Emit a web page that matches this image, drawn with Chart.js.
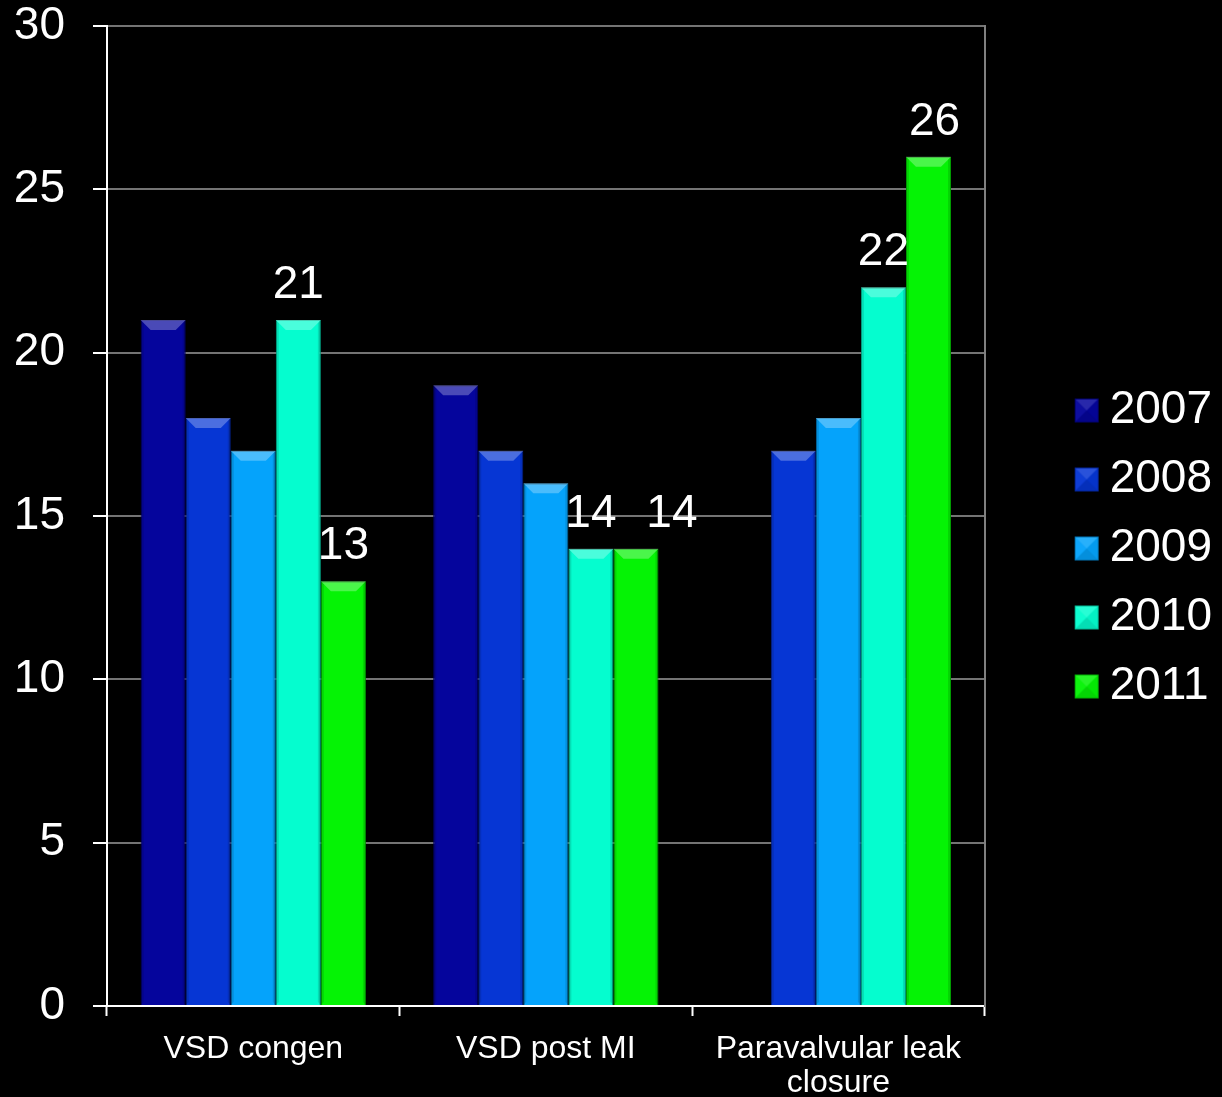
<!DOCTYPE html>
<html>
<head>
<meta charset="utf-8">
<script src="https://cdn.jsdelivr.net/npm/chart.js@4.4.1/dist/chart.umd.min.js"></script>
<style>
  html, body { margin: 0; padding: 0; background: #000; }
  #wrap { width: 1222px; height: 1097px; position: relative; }
</style>
</head>
<body>
<div id="wrap"><canvas id="c"></canvas></div>
<script>
// ---- data ----
const categories = ['VSD congen', 'VSD post MI', ['Paravalvular leak', 'closure']];
const years = ['2007', '2008', '2009', '2010', '2011'];
const v2007 = [21, 19, null];
const v2008 = [18, 17, 17];
const v2009 = [17, 16, 18];
const v2010 = [21, 14, 22];
const v2011 = [13, 14, 26];
const yTicks = [0, 5, 10, 15, 20, 25, 30];

const seriesValues = [v2007, v2008, v2009, v2010, v2011];
const fillColors = ['#05059c', '#0636d4', '#05a3fb', '#05fdcf', '#05f305'];
const edgeColors = ['#020270', '#04259a', '#0377b8', '#03b894', '#03b003'];

const FONT = '"Liberation Sans", Arial, sans-serif';

// legend swatch: bevelled square drawn on the right half of a wider image
function makeSwatch(fill, edge) {
  const c = document.createElement('canvas');
  c.width = 52; c.height = 26;
  const g = c.getContext('2d');
  const l = 27, t = 1, s = 24, r = l + s, b = t + s, cx = l + s / 2, cy = t + s / 2;
  g.fillStyle = fill;
  g.fillRect(l, t, s, s);
  const tri = (pts, col) => {
    g.fillStyle = col; g.beginPath();
    g.moveTo(pts[0][0], pts[0][1]); g.lineTo(pts[1][0], pts[1][1]); g.lineTo(pts[2][0], pts[2][1]);
    g.closePath(); g.fill();
  };
  tri([[l, t], [r, t], [cx, cy]], 'rgba(255,255,255,0.14)');
  tri([[l, t], [l, b], [cx, cy]], 'rgba(255,255,255,0.04)');
  tri([[r, t], [r, b], [cx, cy]], 'rgba(0,0,0,0.05)');
  tri([[l, b], [r, b], [cx, cy]], 'rgba(0,0,0,0.12)');
  g.strokeStyle = edge; g.lineWidth = 1;
  g.strokeRect(l + 0.5, t + 0.5, s - 1, s - 1);
  return c;
}

// bevel effect on bars
const bevelPlugin = {
  id: 'bevel',
  afterDatasetsDraw(chart) {
    const ctx = chart.ctx;
    chart.data.datasets.forEach((ds, di) => {
      const meta = chart.getDatasetMeta(di);
      meta.data.forEach((bar, i) => {
        if (ds.data[i] == null) return;
        const { x, y, base, width } = bar.getProps(['x', 'y', 'base', 'width'], true);
        const l = x - width / 2, r = x + width / 2;
        const h = Math.min(10, (base - y) / 2);
        ctx.save();
        ctx.fillStyle = 'rgba(255,255,255,0.28)';
        ctx.beginPath();
        ctx.moveTo(l, y); ctx.lineTo(r, y); ctx.lineTo(r - h, y + h); ctx.lineTo(l + h, y + h);
        ctx.closePath(); ctx.fill();
        ctx.fillStyle = 'rgba(0,0,0,0.12)';
        ctx.beginPath();
        ctx.moveTo(l, y); ctx.lineTo(l + 3, y + 3); ctx.lineTo(l + 3, base - 3); ctx.lineTo(l, base);
        ctx.closePath(); ctx.fill();
        ctx.beginPath();
        ctx.moveTo(r, y); ctx.lineTo(r - 3, y + 3); ctx.lineTo(r - 3, base - 3); ctx.lineTo(r, base);
        ctx.closePath(); ctx.fill();
        ctx.restore();
      });
    });
  }
};

// value labels above bars (only for selected series)
const valueLabelPlugin = {
  id: 'valueLabels',
  afterDatasetsDraw(chart, args, opts) {
    const ctx = chart.ctx;
    ctx.save();
    ctx.font = opts.fontSize + 'px ' + FONT;
    ctx.fillStyle = opts.color;
    ctx.textAlign = 'center';
    ctx.textBaseline = 'alphabetic';
    opts.series.forEach(di => {
      const meta = chart.getDatasetMeta(di);
      const ds = chart.data.datasets[di];
      meta.data.forEach((bar, i) => {
        const v = ds.data[i];
        if (v == null) return;
        const shift = (opts.shifts || []).find(s => s.dataset === di && s.index === i);
        const dx = shift ? shift.dx : 0;
        ctx.fillText(String(v), bar.x + dx, bar.y - opts.gap);
      });
    });
    ctx.restore();
  }
};

const datasets = years.map((yr, k) => ({
  label: yr,
  data: seriesValues[k],
  backgroundColor: fillColors[k],
  borderColor: edgeColors[k],
  borderWidth: 1,
  borderSkipped: 'bottom',
  pointStyle: makeSwatch(fillColors[k], edgeColors[k])
}));

new Chart(document.getElementById('c'), {
  type: 'bar',
  data: { labels: categories, datasets },
  plugins: [bevelPlugin, valueLabelPlugin],
  options: {
    responsive: true,
    maintainAspectRatio: false,
    animation: false,
    layout: { padding: { left: 0, right: 0, top: 0, bottom: 0 } },
    datasets: { bar: { barPercentage: 1.0, categoryPercentage: 0.77 } },
    scales: {
      x: {
        type: 'category',
        offset: true,
        grid: {
          offset: true,
          drawOnChartArea: false,
          drawTicks: true,
          tickLength: 10,
          tickColor: '#ffffff',
          tickWidth: 2
        },
        border: { display: true, color: '#ffffff', width: 2 },
        ticks: {
          color: '#ffffff',
          font: { family: FONT, size: 32, lineHeight: 1.07 },
          padding: 16,
          maxRotation: 0,
          autoSkip: false
        },
        afterFit(scale) { scale.height = 91; }
      },
      y: {
        min: 0,
        max: 30,
        afterBuildTicks(scale) { scale.ticks = yTicks.map(v => ({ value: v })); },
        grid: {
          color: '#747474',
          lineWidth: 2,
          drawTicks: true,
          tickLength: 14,
          tickColor: '#ffffff',
          tickWidth: 2
        },
        border: { display: true, color: '#ffffff', width: 2 },
        ticks: {
          color: '#ffffff',
          font: { family: FONT, size: 46 },
          padding: 28
        },
        afterFit(scale) {
          scale.width = 107;
          scale.paddingTop = 26;
          scale.paddingBottom = 0;
        }
      },
      yRight: {
        position: 'right',
        min: 0,
        max: 30,
        grid: { display: false, drawTicks: false },
        border: { display: true, color: '#808080', width: 2 },
        ticks: { display: false },
        afterFit(scale) { scale.width = 53; }
      }
    },
    plugins: {
      legend: {
        display: true,
        position: 'right',
        labels: {
          color: '#ffffff',
          font: { family: FONT, size: 46 },
          usePointStyle: true,
          boxWidth: 26,
          boxHeight: 26,
          padding: 23
        }
      },
      tooltip: { enabled: false },
      valueLabels: {
        series: [3, 4],
        fontSize: 46,
        color: '#ffffff',
        gap: 22,
        shifts: [{ dataset: 4, index: 1, dx: 36 }, { dataset: 4, index: 2, dx: 6 }]
      }
    }
  }
});
</script>
</body>
</html>
